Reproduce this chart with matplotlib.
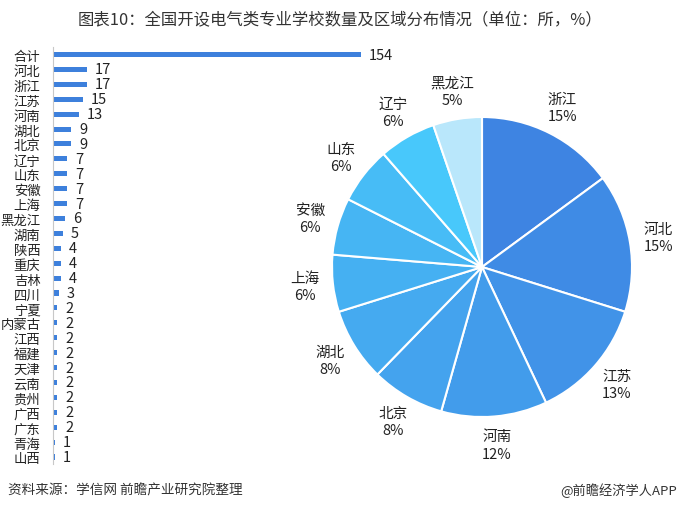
import matplotlib
matplotlib.use("Agg")
import matplotlib.pyplot as plt

plt.rcParams['font.family'] = ['Noto Sans CJK SC', 'DejaVu Sans']

# ---- data ----
bar_categories = ["合计", "河北", "浙江", "江苏", "河南", "湖北", "北京", "辽宁", "山东", "安徽",
                  "上海", "黑龙江", "湖南", "陕西", "重庆", "吉林", "四川", "宁夏", "内蒙古", "江西",
                  "福建", "天津", "云南", "贵州", "广西", "广东", "青海", "山西"]
bar_values = [154, 17, 17, 15, 13, 9, 9, 7, 7, 7, 7, 6, 5, 4, 4, 4, 3, 2, 2, 2, 2, 2, 2, 2, 2, 2, 1, 1]

pie_labels = ["浙江", "河北", "江苏", "河南", "北京", "湖北", "上海", "安徽", "山东", "辽宁", "黑龙江"]
pie_values = [17, 17, 15, 13, 9, 9, 7, 7, 7, 7, 6]
pie_pct = [15, 15, 13, 12, 8, 8, 6, 6, 6, 6, 5]
pie_colors = ["#3E84E2", "#3F8BE5", "#4193E8", "#429CEB", "#44A3EE", "#45AAF0",
              "#45B0F2", "#46B5F3", "#47BCF6", "#48C8FB", "#B9E7FB"]

title = "图表10：全国开设电气类专业学校数量及区域分布情况（单位：所，%）"
source = "资料来源：学信网 前瞻产业研究院整理"
brand = "@前瞻经济学人APP"

W, H = 680, 510
fig = plt.figure(figsize=(W / 100, H / 100), dpi=100)
fig.patch.set_facecolor("white")

# ---- bar chart ----
n = len(bar_categories)
step = (458 - 55.5) / (n - 1)
top_px = 55.5 - step / 2
bot_px = 458 + step / 2
left_px, right_px = 53, 400
axb = fig.add_axes([left_px / W, 1 - bot_px / H, (right_px - left_px) / W, (bot_px - top_px) / H])
ypos = list(range(n))
axb.barh(ypos, bar_values, height=0.34, color="#3D80DC")
axb.set_ylim(n - 0.5, -0.5)
axb.set_xlim(0, (right_px - left_px) / 2.0)
for s in ["top", "right", "bottom"]:
    axb.spines[s].set_visible(False)
axb.spines["left"].set_color("#C8C8C8")
axb.spines["left"].set_linewidth(0.8)
axb.set_xticks([])
axb.set_yticks(ypos)
axb.set_yticklabels(bar_categories, fontsize=9.6, color="#222222")
axb.tick_params(axis="y", length=0, pad=9)
axb.patch.set_alpha(0)
for y, v in zip(ypos, bar_values):
    axb.text(v + 4, y, str(v), va="center", ha="left", fontsize=10.5, color="#222222")

# ---- pie chart ----
cx, cy, r = 482, 268, 150
axp = fig.add_axes([(cx - r) / W, 1 - (cy + r) / H, 2 * r / W, 2 * r / H])
labels = [f"{l}\n{p}%" for l, p in zip(pie_labels, pie_pct)]
wedges, texts = axp.pie(pie_values, colors=pie_colors, startangle=90, counterclock=False,
                        labels=labels, labeldistance=1.19,
                        wedgeprops=dict(edgecolor="white", linewidth=1.5),
                        textprops=dict(fontsize=10.5, color="#222222", ha="center", va="center",
                                       linespacing=1.3))
for t in texts:
    t.set_ha("center")
    t.set_clip_on(False)
axp.set_xlim(-1.0, 1.0)
axp.set_ylim(-1.0, 1.0)
axp.set_aspect("equal")
axp.axis("off")

# ---- texts ----
fig.text(0.5, 1 - 20 / H, title, ha="center", va="center", fontsize=11.8, color="#333333")
fig.text(8 / W, 1 - 491 / H, source, ha="left", va="center", fontsize=9.8, color="#333333",
         style="italic")
fig.text(677 / W, 1 - 491 / H, brand, ha="right", va="center", fontsize=9.5, color="#333333")

fig.savefig("out.png", dpi=100, facecolor="white")
